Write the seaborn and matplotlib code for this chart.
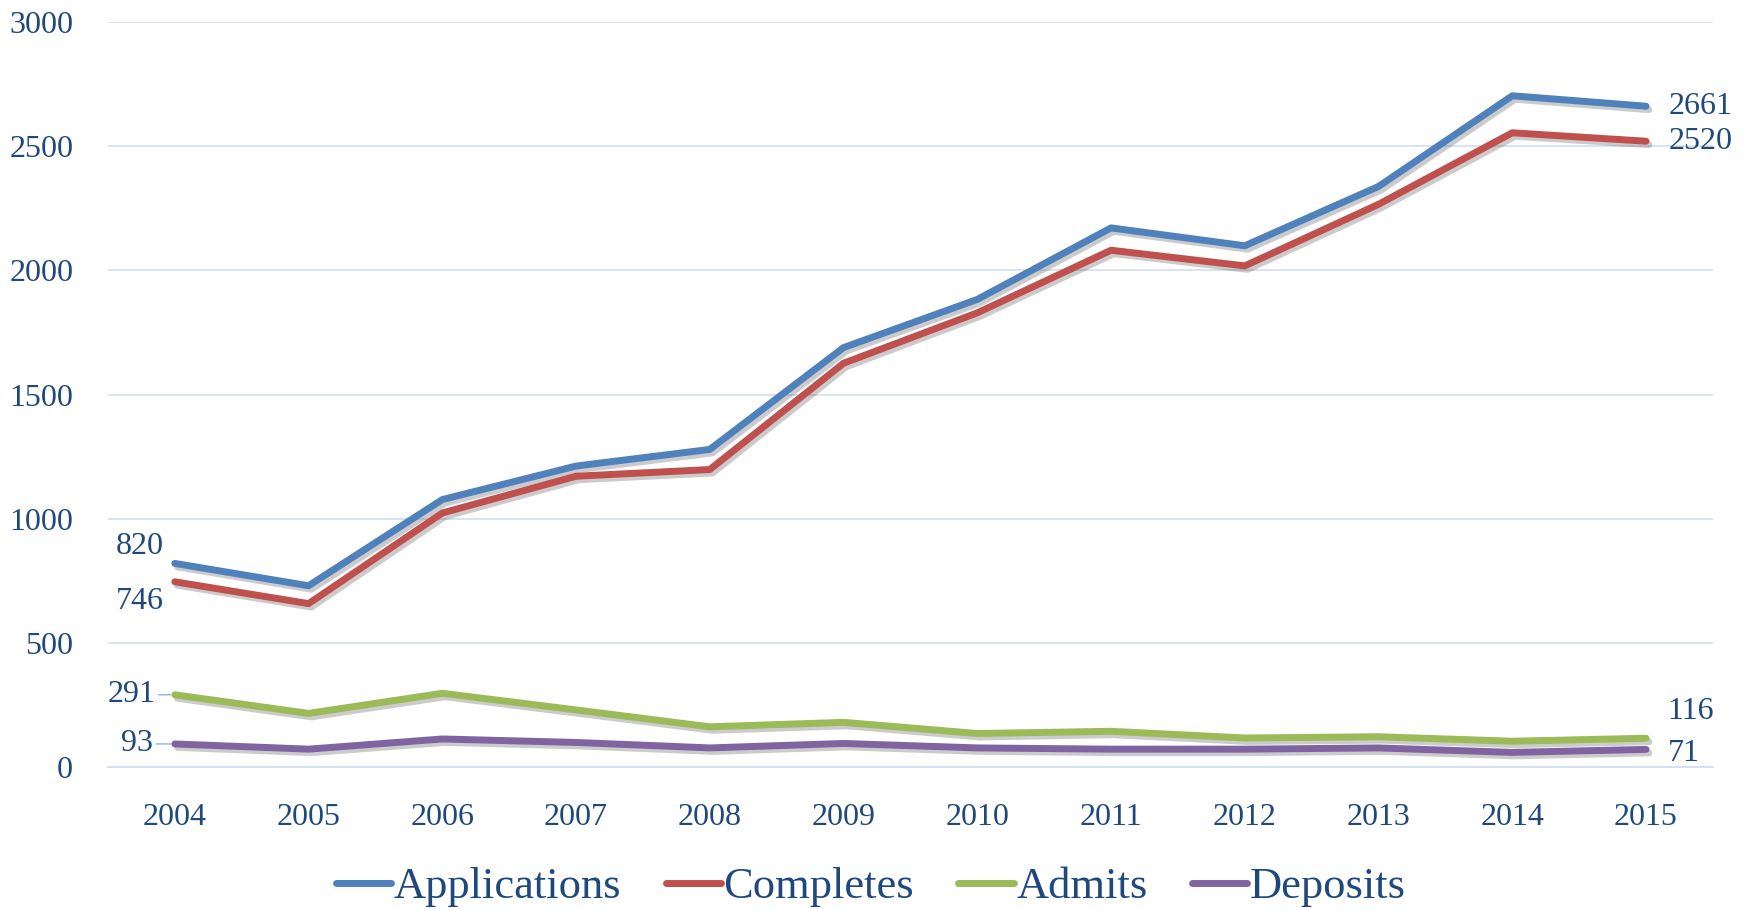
import numpy as np
import pandas as pd
import seaborn as sns
import matplotlib.pyplot as plt
import matplotlib.patheffects as pe

# values
years = ['2004', '2005', '2006', '2007', '2008', '2009', '2010', '2011', '2012', '2013', '2014', '2015']
applications = [820, 730, 1077, 1212, 1279, 1689, 1883, 2171, 2099, 2338, 2703, 2661]
completes = [746, 658, 1023, 1171, 1198, 1626, 1829, 2081, 2018, 2266, 2554, 2520]
admits = [291, 216, 297, 230, 162, 180, 135, 144, 117, 122, 104, 116]
deposits = [93, 72, 113, 99, 77, 95, 77, 72, 72, 77, 59, 71]

series = {'Applications': applications, 'Completes': completes,
          'Admits': admits, 'Deposits': deposits}
colors = ['#4F81BD', '#C0504D', '#9BBB59', '#8064A2']
text_color = '#1F497D'
grid_color = '#D6E1F0'

df = pd.DataFrame([(y, name, v) for name, vals in series.items() for y, v in zip(years, vals)],
                  columns=['year', 'series', 'value'])

sns.set_style('white')
plt.rcParams['font.family'] = ['Liberation Serif', 'DejaVu Serif']

fig = plt.figure(figsize=(17.52, 9.10), dpi=100)
ax = fig.add_axes([0.0616, 0.1571, 0.9161, 0.8187])

sns.lineplot(data=df, x='year', y='value', hue='series', palette=colors, sort=False,
             linewidth=5, ax=ax, legend=True)

for line in ax.lines:
    line.set_solid_capstyle('round')
    line.set_path_effects([pe.SimpleLineShadow(offset=(2, -2.5), shadow_color='#555555', alpha=0.3),
                           pe.Normal()])

ax.set_ylim(0, 3000)
ax.set_xlim(-0.5, len(years) - 0.5)
ax.set_yticks(np.arange(0, 3001, 500))
ax.yaxis.grid(True, color=grid_color, linewidth=1.3)
ax.set_axisbelow(True)
ax.set_xlabel('')
ax.set_ylabel('')

for s in ['left', 'right', 'top']:
    ax.spines[s].set_visible(False)
ax.spines['bottom'].set_color(grid_color)
ax.spines['bottom'].set_linewidth(1.5)

ax.tick_params(axis='y', length=0, pad=25, labelsize=23, labelcolor=text_color)
ax.tick_params(axis='x', which='major', length=0, pad=26, labelsize=23, labelcolor=text_color)
ax.set_xticks(np.arange(-0.5, len(years), 1.0), minor=True)
ax.tick_params(axis='x', which='minor', length=10, width=1.3, color=grid_color)

# data labels at both ends
lab = dict(fontsize=23, color=text_color)
lead = dict(arrowstyle='-', color='#8DB3E2', lw=1, shrinkA=0, shrinkB=3)
ax.annotate(str(applications[0]), (0, applications[0]), xytext=(-8, 12), textcoords='offset points',
            ha='right', va='center', **lab)
ax.annotate(str(completes[0]), (0, completes[0]), xytext=(-8, -14), textcoords='offset points',
            ha='right', va='center', **lab)
ax.annotate(str(admits[0]), (0, admits[0]), xytext=(-14, 0), textcoords='offset points',
            ha='right', va='center', arrowprops=lead, **lab)
ax.annotate(str(deposits[0]), (0, deposits[0]), xytext=(-16, 0), textcoords='offset points',
            ha='right', va='center', arrowprops=lead, **lab)
last = len(years) - 1
ax.annotate(str(applications[-1]), (last, applications[-1]), xytext=(16, 0), textcoords='offset points',
            ha='left', va='center', **lab)
ax.annotate(str(completes[-1]), (last, completes[-1]), xytext=(16, 0), textcoords='offset points',
            ha='left', va='center', **lab)
ax.annotate(str(admits[-1]), (last, admits[-1]), xytext=(15, 19), textcoords='offset points',
            ha='left', va='center', **lab)
ax.annotate(str(deposits[-1]), (last, deposits[-1]), xytext=(16, -3), textcoords='offset points',
            ha='left', va='center', **lab)

handles, labels = ax.get_legend_handles_labels()
ax.get_legend().remove()
leg = fig.legend(handles, labels, loc='center', bbox_to_anchor=(0.497, 0.025), ncol=4, frameon=False,
                 fontsize=32, handlelength=1.25, handletextpad=0.05, columnspacing=1.0,
                 borderaxespad=0)
for t in leg.get_texts():
    t.set_color(text_color)
for h in leg.legend_handles:
    h.set_linewidth(5)
    h.set_solid_capstyle('round')
    h.set_path_effects([])

fig.savefig('out.png', dpi=100)
